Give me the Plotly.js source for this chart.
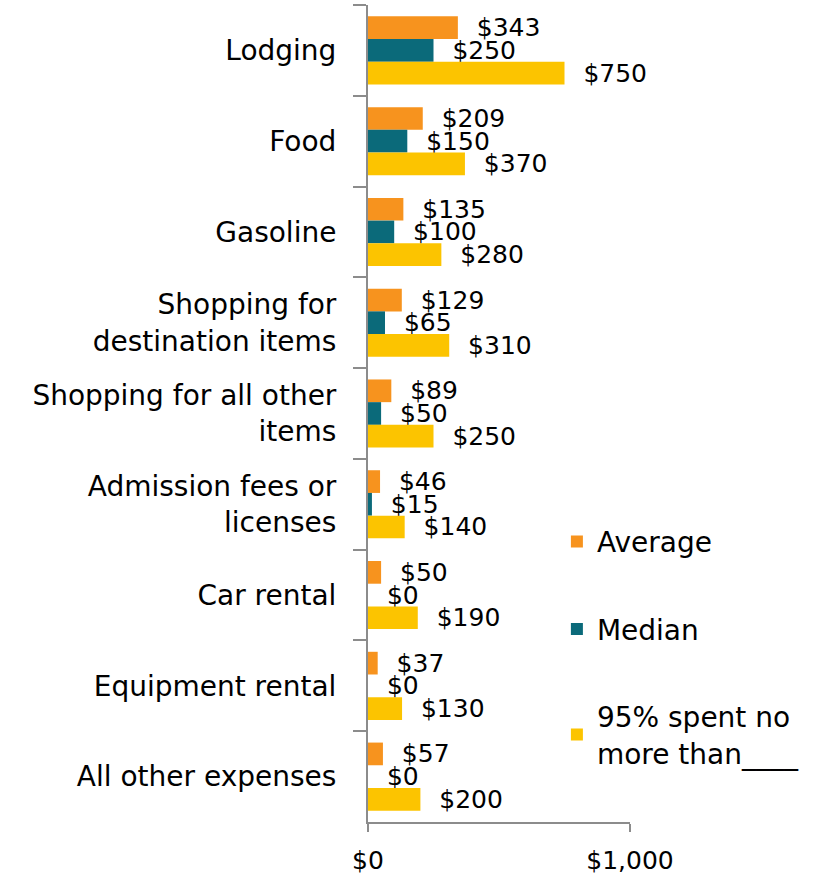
<!DOCTYPE html>
<html>
<head>
<meta charset="utf-8">
<script src="https://cdn.plot.ly/plotly-3.0.1.min.js"></script>
<style>html,body{margin:0;padding:0;background:#fff;}#chart{width:823px;height:877px;}</style>
</head>
<body>
<div id="chart"></div>
<script>
const categories = ["Lodging", "Food", "Gasoline", "Shopping for<br>destination items", "Shopping for all other<br>items", "Admission fees or<br>licenses", "Car rental", "Equipment rental", "All other expenses"];
const averageVals = [343, 209, 135, 129, 89, 46, 50, 37, 57];
const medianVals = [250, 150, 100, 65, 50, 15, 0, 0, 0];
const p95Vals = [750, 370, 280, 310, 250, 140, 190, 130, 200];
const seriesNames = ["Average", "Median", "95% spent no<br>more than____"];
const xTickVals = [0, 1000];
const xTickText = ["$0", "$1,000"];

const colors = ["#F7931E", "#0B6A7A", "#FCC400"];
const FONT = "DejaVu Sans, Verdana, sans-serif";
const seriesVals = [averageVals, medianVals, p95Vals];

const traces = seriesVals.map((vals, i) => ({
  type: "bar",
  orientation: "h",
  name: seriesNames[i],
  legendgroup: "g" + i,
  x: vals,
  y: categories,
  marker: {color: colors[i], line: {width: 0}},
  text: vals.map(v => "\u00a0\u00a0$" + v),
  textposition: "outside",
  textfont: {family: FONT, size: 25, color: "#000"},
  constraintext: "none",
  cliponaxis: false,
  hoverinfo: "skip"
}));

const layout = {
  width: 823, height: 877,
  margin: {l: 368, r: 193, t: 5, b: 55},
  paper_bgcolor: "#fff", plot_bgcolor: "#fff",
  barmode: "group",
  bargap: 0.25, bargroupgap: 0,
  font: {family: FONT, size: 24, color: "#000"},
  xaxis: {
    range: [0, 1000], fixedrange: true,
    tickvals: xTickVals, ticktext: xTickText,
    showgrid: false, zeroline: false,
    showline: true, linecolor: "#8C8C8C", linewidth: 2,
    ticks: "outside", ticklen: 8, tickwidth: 2, tickcolor: "#8C8C8C",
    ticklabelstandoff: 7,
    tickfont: {family: FONT, size: 25, color: "#000"}
  },
  yaxis: {
    autorange: "reversed", type: "category",
    showgrid: false, zeroline: false,
    showline: true, linecolor: "#8C8C8C", linewidth: 2,
    ticks: "outside", tickson: "boundaries", ticklen: 13, tickwidth: 2, tickcolor: "#8C8C8C",
    ticklabelstandoff: 24,
    tickfont: {family: FONT, size: 28, color: "#000"}
  },
  showlegend: true,
  legend: {
    x: 0.721, xanchor: "left", y: 0.3735, yanchor: "top",
    traceorder: "grouped", tracegroupgap: 48,
    font: {family: FONT, size: 28, color: "#000"},
    bgcolor: "rgba(0,0,0,0)"
  }
};

Plotly.newPlot("chart", traces, layout, {displayModeBar: false, staticPlot: true});
</script>
</body>
</html>
